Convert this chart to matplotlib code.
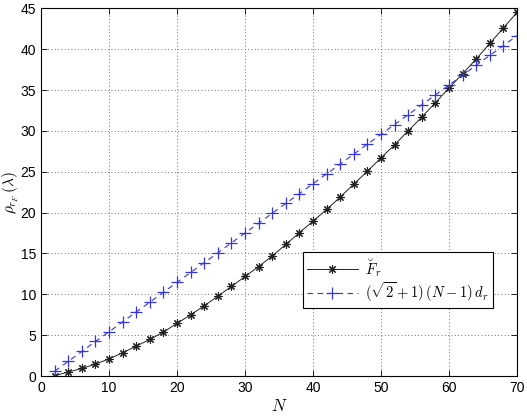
import numpy as np
import matplotlib
matplotlib.use("Agg")
import matplotlib.pyplot as plt

plt.rcParams['font.family'] = ['Liberation Sans', 'DejaVu Sans']
plt.rcParams['mathtext.fontset'] = 'cm'

# N values (markers every 2)
N = list(range(2, 71, 2))

# F_r (black, asterisks)
F_r = [0.05, 0.5, 0.93, 1.47, 2.1, 2.85, 3.67, 4.48, 5.4, 6.45,
       7.5, 8.6, 9.78, 10.96, 12.19, 13.4, 14.7, 16.1, 17.55, 18.95,
       20.4, 21.9, 23.5, 25.07, 26.7, 28.3, 30.0, 31.7, 33.45, 35.25,
       37.0, 38.8, 40.7, 42.6, 44.5]

# (sqrt(2)+1)(N-1)d_r (blue, plus markers)
bound = [0.60, 1.81, 3.02, 4.23, 5.43, 6.64, 7.85, 9.05, 10.26, 11.47,
         12.68, 13.88, 15.09, 16.30, 17.50, 18.71, 19.92, 21.13, 22.33, 23.54,
         24.75, 25.95, 27.16, 28.37, 29.58, 30.78, 31.99, 33.20, 34.40, 35.61,
         36.82, 38.03, 39.23, 40.44, 41.65]

fig = plt.figure(figsize=(5.27, 4.16), dpi=100)
ax = fig.add_axes([0.078, 0.096, 0.903, 0.884])

ax.plot(N, F_r, color='#222222', lw=0.7, marker=(8, 2, 0), ms=6, mew=0.8,
        label=r'$\breve{F}_r$')
ax.plot(N, bound, color='#3535e0', lw=0.8, ls=(0, (5, 4)), marker='+', ms=8, mew=0.9,
        label=r'$(\sqrt{2}+1)\,(N-1)\,d_r$')

ax.set_xlim(0, 70)
ax.set_ylim(0, 45)
ax.set_xticks(range(0, 71, 10))
ax.set_yticks(range(0, 46, 5))
ax.tick_params(direction='in', top=True, right=True, length=4, width=0.6, labelsize=10)
ax.grid(True, color='#444444', ls=(0, (1, 3)), lw=0.6)
for s in ax.spines.values():
    s.set_linewidth(0.8)

ax.set_xlabel(r'$N$', fontsize=12, labelpad=2)
ax.set_ylabel(r'$\rho_{r_F}\,(\lambda)$', fontsize=11)
ax.yaxis.set_label_coords(-0.042, 0.5)

leg = ax.legend(loc='lower right', bbox_to_anchor=(0.95, 0.185), fontsize=10.5,
                fancybox=False, framealpha=1, edgecolor='black', numpoints=1,
                borderaxespad=0, handlelength=3.5, handletextpad=0.5,
                labelspacing=0.08, borderpad=0.3)
leg.get_frame().set_linewidth(0.8)

fig.savefig('out.png', dpi=100)
